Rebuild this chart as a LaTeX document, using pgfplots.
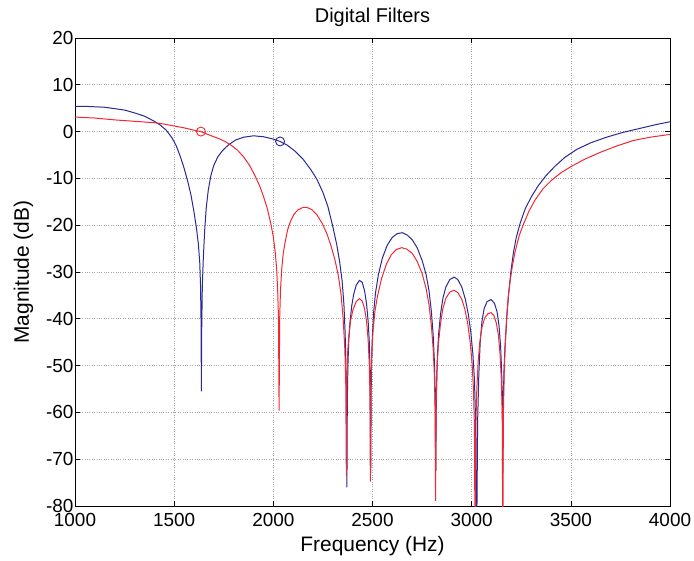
\documentclass[border=0pt]{standalone}
\usepackage{pgfplots}
\pgfplotsset{compat=1.18}
\usepackage{fontspec}
\setmainfont{Liberation Sans}

\definecolor{fblue}{RGB}{40,40,150}
\definecolor{fred}{RGB}{240,40,50}

\begin{document}
\begin{tikzpicture}
\begin{axis}[
    scale only axis,
    width=595bp, height=468bp,
    xmin=1000, xmax=4000, ymin=-80, ymax=20,
    xtick={1000,1500,...,4000},
    ytick={-80,-70,...,20},
    tick align=inside,
    major tick length=5bp,
    xtick pos=both, ytick pos=both,
    grid=major,
    major grid style={gray!70, dotted, line width=0.6pt},
    axis line style={black, line width=0.7pt},
    tick style={black, line width=0.6pt},
    /pgf/number format/assume math mode=true,
    /pgf/number format/1000 sep={},
    ticklabel style={font=\fontsize{19}{19}\selectfont},
    xticklabel style={yshift=-4bp},
    yticklabel style={xshift=2bp},
    xlabel={Frequency (Hz)},
    ylabel={Magnitude (dB)},
    every axis x label/.append style={font=\fontsize{21}{21}\selectfont, yshift=-3bp},
    every axis y label/.append style={font=\fontsize{21}{21}\selectfont, yshift=6bp},
    title={Digital Filters},
    every axis title/.append style={font=\fontsize{20}{20}\selectfont, yshift=2bp},
]
% blue filter
\addplot[fblue, line width=1pt] coordinates {
(1000,5.4) (1050,5.4) (1100,5.3) (1150,5.2) (1200,4.9) (1250,4.6) (1300,4.0)
(1350,3.3) (1400,2.2) (1430,1.4) (1460,0.3) (1490,-1.4) (1510,-3.0) (1530,-5.2)
(1550,-7.8) (1570,-10.9) (1585,-13.6) (1600,-17.2) (1612,-20.5) (1622,-24)
(1629,-28) (1633,-33) (1636,-42) (1637,-55.5) (1639,-42) (1642,-33) (1647,-27)
(1654,-21) (1662,-16.2) (1672,-12.5) (1685,-9.4) (1700,-7.2) (1720,-5.4)
(1745,-4.0) (1775,-2.8) (1810,-1.8) (1850,-1.2) (1900,-0.9) (1950,-1.1)
(2000,-1.6) (2034,-2.1) (2070,-2.9) (2110,-4.2) (2150,-5.9) (2190,-8.2)
(2220,-10.2) (2250,-13.0) (2275,-16.0) (2300,-20.3) (2320,-24.2) (2335,-28)
(2347,-32) (2356,-37) (2362,-43) (2366,-50) (2369,-58) (2371,-76) (2373,-58)
(2376,-50) (2380,-45) (2386,-41) (2395,-37.3) (2405,-34.8) (2418,-32.8)
(2434,-31.8) (2448,-32.2) (2460,-34) (2470,-36.8) (2478,-40.5) (2484,-45)
(2488,-52) (2491,-73) (2494,-52) (2498,-45) (2505,-39) (2515,-34.5)
(2530,-30.5) (2550,-27) (2575,-24.2) (2600,-22.6) (2625,-21.8) (2650,-21.6)
(2675,-22.1) (2700,-23.1) (2725,-24.8) (2750,-27.5) (2770,-30.5) (2785,-34)
(2797,-38.5) (2806,-43.5) (2812,-49) (2816,-56) (2819,-72.5) (2822,-56)
(2827,-48) (2834,-43) (2843,-39) (2855,-35.6) (2870,-33.2) (2890,-31.6)
(2911,-31.1) (2930,-31.6) (2950,-33.2) (2968,-35.8) (2983,-39) (2996,-43)
(3006,-47.5) (3014,-53) (3020,-62) (3025,-90) (3030,-62) (3036,-52)
(3043,-45) (3052,-40.5) (3063,-37.8) (3078,-36.3) (3098,-35.9) (3115,-36.7)
(3128,-38.5) (3138,-41.5) (3146,-46) (3151,-51) (3155,-58) (3157,-72.9)
(3159,-58) (3163,-51) (3168,-46) (3174,-42) (3180,-38) (3188,-34)
(3198,-29.8) (3210,-26) (3225,-22.6) (3245,-19.5) (3270,-16.5) (3300,-14)
(3335,-11.6) (3375,-9.4) (3420,-7.4) (3470,-5.5) (3530,-3.8) (3600,-2.4)
(3680,-1.2) (3760,-0.2) (3850,0.7) (3930,1.5) (4000,2.1)
};
% red filter
\addplot[fred, line width=1pt] coordinates {
(1000,3.1) (1100,2.9) (1200,2.5) (1300,2.2) (1400,1.9) (1450,1.6) (1500,1.2)
(1550,0.8) (1600,0.3) (1635,0.0) (1670,-0.6) (1700,-1.1) (1731,-1.6)
(1760,-2.2) (1790,-3.0) (1820,-4.0) (1850,-5.4) (1880,-7.2) (1905,-9.2)
(1930,-11.5) (1950,-13.8) (1970,-16.5) (1988,-19.8) (2000,-22.5) (2010,-26)
(2017,-29.5) (2022,-34) (2026,-40) (2029,-59.6) (2032,-40) (2036,-34)
(2042,-29.5) (2050,-26) (2060,-23.5) (2072,-21) (2087,-19.1) (2105,-17.6)
(2125,-16.7) (2150,-16.2) (2170,-16.2) (2195,-16.7) (2220,-17.8) (2245,-19.5)
(2270,-21.8) (2290,-24.3) (2310,-27.3) (2328,-30.8) (2342,-35) (2352,-40)
(2360,-46) (2365,-53) (2368,-73.6) (2371,-53) (2375,-47) (2381,-43.5)
(2390,-40.3) (2402,-38) (2418,-36.3) (2434,-35.7) (2448,-36.2) (2460,-37.8)
(2470,-40.5) (2478,-44.5) (2484,-50) (2487,-56) (2489,-74.8) (2491,-56)
(2495,-49) (2502,-43) (2512,-38.5) (2525,-35.2) (2545,-31.5) (2570,-28.3)
(2595,-26.3) (2620,-25.2) (2647,-24.8) (2672,-25.1) (2700,-26) (2725,-27.7)
(2750,-30.3) (2770,-33.5) (2785,-37) (2797,-41.5) (2806,-46.5) (2812,-52)
(2815,-58) (2818,-78.9) (2821,-58) (2826,-50) (2833,-45) (2843,-41)
(2855,-37.8) (2870,-35.6) (2890,-34.3) (2911,-33.9) (2930,-34.4) (2950,-35.8)
(2966,-38) (2980,-41) (2992,-44.8) (3002,-49.5) (3009,-55) (3014,-63)
(3017,-90) (3021,-63) (3026,-55) (3033,-49) (3041,-45) (3052,-41.8)
(3066,-39.8) (3082,-38.9) (3098,-38.7) (3112,-39.3) (3125,-41) (3135,-43.6)
(3143,-47.5) (3149,-52.5) (3154,-60) (3157,-90) (3160,-60) (3165,-50)
(3171,-44) (3177,-39.2) (3185,-35) (3195,-31.6) (3205,-28.8) (3219,-25.7)
(3240,-22.2) (3261,-19.8) (3290,-16.9) (3320,-14.6) (3360,-12.2) (3400,-10.5)
(3450,-8.8) (3500,-7.5) (3570,-5.9) (3650,-4.4) (3730,-3.1) (3815,-1.9)
(3900,-1.2) (4000,-0.6)
};
% markers
\addplot[fred, only marks, mark=o, mark size=4.5bp, line width=0.9pt] coordinates {(1635,0)};
\addplot[fblue, only marks, mark=o, mark size=4.5bp, line width=0.9pt] coordinates {(2034,-2.1)};
\end{axis}
\pgfresetboundingbox
\path ([shift={(-75bp,-55bp)}]current axis.south west) rectangle ([shift={(24bp,38bp)}]current axis.north east);
\end{tikzpicture}
\end{document}
